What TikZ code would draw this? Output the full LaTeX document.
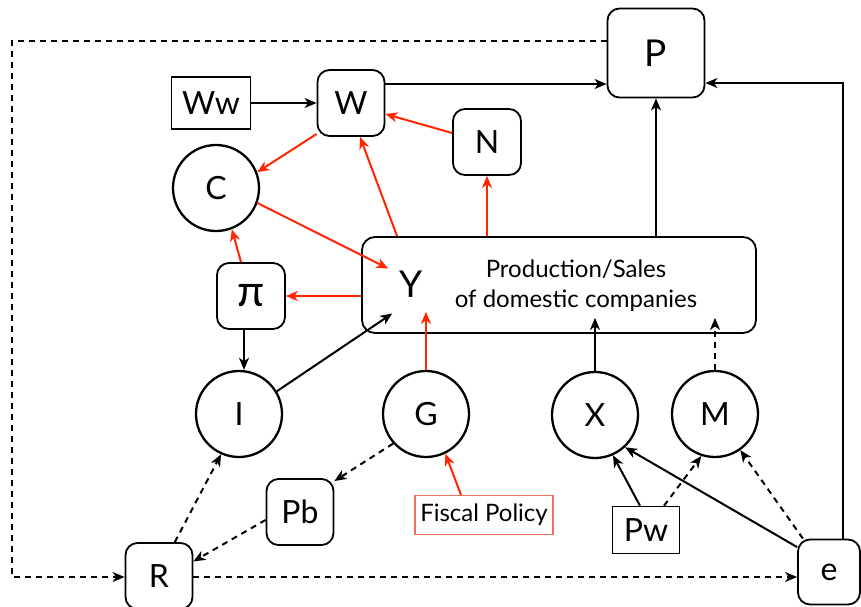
\documentclass[tikz,border=0pt]{standalone}
\usepackage{fontspec}
\setmainfont{Lato}
\usetikzlibrary{arrows.meta,calc}
\definecolor{flow}{RGB}{255,38,0}
\definecolor{policy}{RGB}{240,112,96}
\tikzset{
  every node/.style={inner sep=0pt},
  lbl/.style={font=\fontsize{32}{36}\selectfont},
  rbox/.style={draw, line width=1.8pt, rounded corners=12pt, lbl},
  sbox/.style={draw, line width=1.4pt, lbl},
  cnode/.style={draw, circle, line width=2.3pt, minimum size=86pt, lbl},
  link/.style={line width=2pt, -{Stealth[length=12pt,width=10pt,inset=3.5pt]}},
  rlink/.style={link, draw=flow, color=flow},
  dlink/.style={link, dash pattern=on 6pt off 5pt},
}
\begin{document}
\begin{tikzpicture}[x=1pt,y=-1pt]
\useasboundingbox (0,0) rectangle (861,606);

% boxes and circles
\node[rbox, minimum width=97pt, minimum height=89pt, font=\fontsize{37}{40}\selectfont] (P) at (656,53) {P};
\node[rbox, minimum width=67pt, minimum height=66pt] (W) at (351,103) {W};
\node[sbox, minimum width=79pt, minimum height=52pt] (Ww) at (211,103) {Ww};
\node[rbox, minimum width=68pt, minimum height=66pt] (N) at (487,142) {N};
\node[cnode] (C) at (216,188) {C};
\node[rbox, minimum width=68pt, minimum height=66pt, font=\fontsize{44}{48}\selectfont] (pi) at (251,296) {π};
\node[draw, line width=1.8pt, rounded corners=13pt, minimum width=394pt, minimum height=96pt] (prod) at (559,285) {};
\node[font=\fontsize{37}{40}\selectfont] (ytext) at (411,284) {Y};
\node[font=\fontsize{24}{30}\selectfont, align=center] (ptext) at (576,286) {Production/Sales\\of domestic companies};
\node[cnode] (I) at (239,414) {I};
\node[cnode] (G) at (426,414) {G};
\node[cnode] (X) at (595,415) {X};
\node[cnode] (M) at (715,414) {M};
\node[rbox, minimum width=67pt, minimum height=66pt] (Pb) at (300,512) {Pb};
\node[draw=policy, line width=1.2pt, minimum width=138pt, minimum height=39pt, font=\fontsize{24}{28}\selectfont] (fp) at (484,515) {Fiscal Policy};
\node[sbox, minimum width=67pt, minimum height=47pt] (Pw) at (646,530) {Pw};
\node[rbox, minimum width=67pt, minimum height=66pt] (R) at (159,576) {R};
\node[rbox, minimum width=62pt, minimum height=65pt] (e) at (829,572) {e};

% helper points
\coordinate (pdash) at ([yshift=12pt]P.west);
\coordinate (pin) at ([yshift=-31pt]P.west);
\coordinate (pin2) at ([yshift=-30pt]P.east);
\coordinate (eup) at ([xshift=14pt]e.north);
\coordinate (lcorner) at (12,577);
\coordinate (tipline) at ([yshift=16pt]prod.south);
\coordinate (gtip) at ([yshift=22pt]prod.south);
\coordinate (ywest) at ([xshift=36pt]prod.north west);
\coordinate (ctip) at ([shift={(-11pt,2pt)}]ytext.north west);
\coordinate (itip) at ([shift={(-7pt,-16pt)}]ytext.south west);
\coordinate (pidown) at ([xshift=-7pt]pi.south);

% black connectors
\draw[link] (Ww) -- (W);
\draw[link] (W.east |- pin) -- (pin);
\draw[link] (prod.north -| P.south) -- (P.south);
\draw[link] (eup) |- (pin2);
\draw[link] (pidown) -- (pidown |- I.north);
\draw[link] (I.31) -- (itip);
\draw[link] (X.north) -- (X.north |- tipline);
\draw[link] ([xshift=-6pt]Pw.north) -- (X.-66);
\draw[link] (e.142) -- (X.-47);

% dashed connectors
\draw[dlink] (pdash) -| (lcorner) -- (lcorner -| R.west);
\draw[dlink] (R.east |- lcorner) -- (lcorner -| e.west);
\draw[dlink] (G.222) -- (Pb.42);
\draw[dlink] (Pb.193) -- (R.23);
\draw[dlink] (R.65) -- (I.246);
\draw[dlink] (M.north) -- (M.north |- tipline);
\draw[dlink] ([xshift=18pt]Pw.north) -- (M.252);
\draw[dlink] (e.128) -- (M.-55);

% red connectors
\draw[rlink] ([yshift=9pt]N.west) -- ([yshift=-11pt]W.east);
\draw[rlink] (W.222) -- (C.21);
\draw[rlink] (ywest) -- ([xshift=9pt]W.south);
\draw[rlink] (prod.north -| N.south) -- (N.south);
\draw[rlink] (C.-20) -- (ctip);
\draw[rlink] (prod.west |- pi.east) -- (pi.east);
\draw[rlink] ([xshift=-10pt]pi.north) -- (C.-69);
\draw[rlink] (G.north) -- (G.north |- gtip);
\draw[rlink] ([xshift=-23pt]fp.north) -- (G.-64);
\end{tikzpicture}
\end{document}
